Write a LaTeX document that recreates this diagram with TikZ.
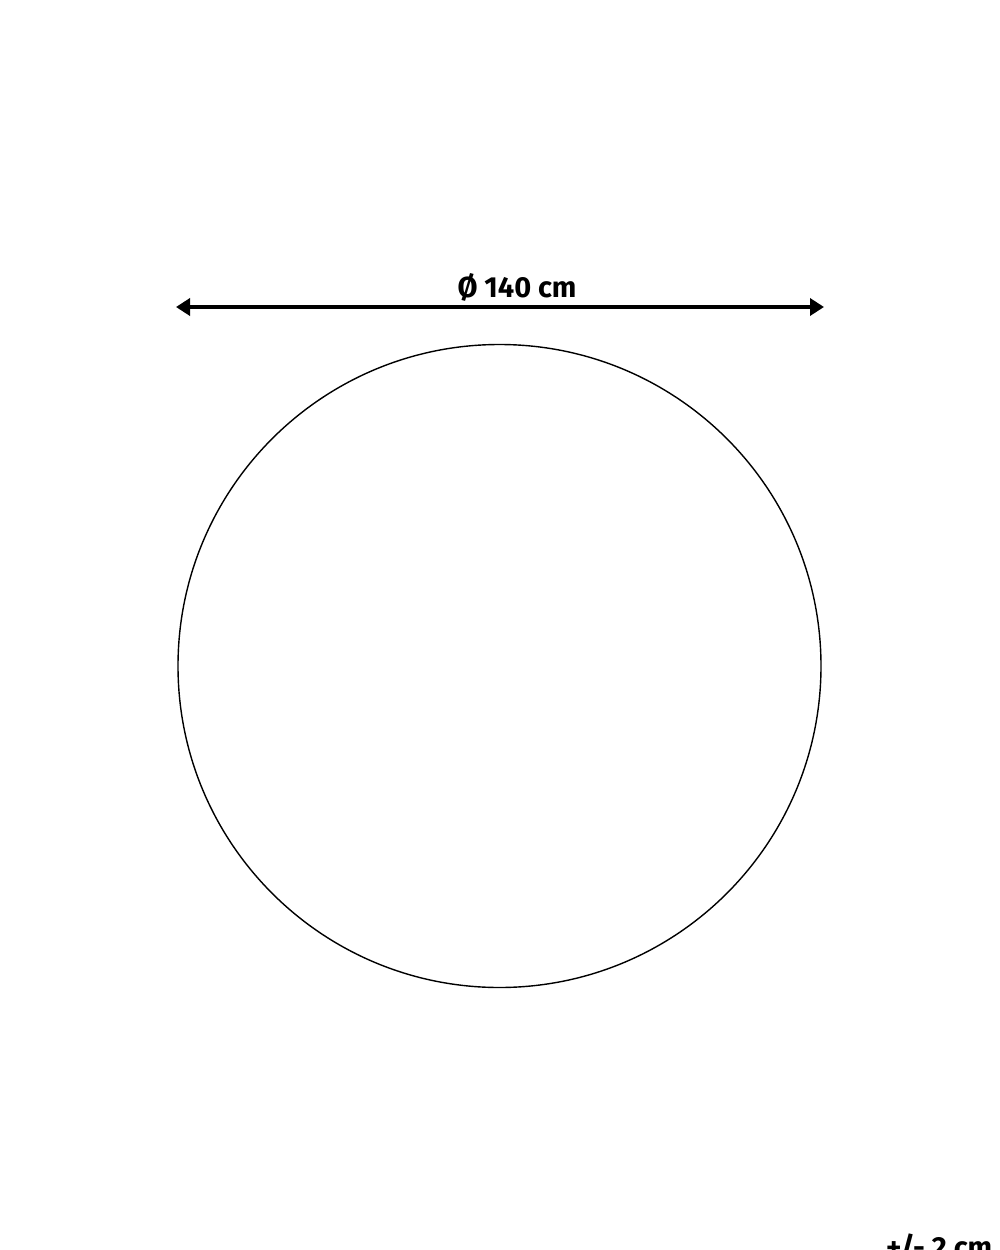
\documentclass[tikz,border=0pt]{standalone}
\usepackage{fontspec}
\setmainfont{Fira Sans}
\usetikzlibrary{arrows.meta}
\tikzset{
  dimline/.style={line width=4pt, {Triangle[length=14pt,width=17pt]}-{Triangle[length=14pt,width=17pt]}},
  rug/.style={line width=1.4pt, draw=black},
  lbl/.style={font=\bfseries\fontsize{29}{30}\selectfont, inner sep=0pt, text=black}
}
\begin{document}
\begin{tikzpicture}[x=1pt,y=-1pt]
  \useasboundingbox (0,0) rectangle (1000,1250);
  \coordinate (L) at (176,307);
  \coordinate (R) at (824,307);
  \draw[dimline] (L) -- (R);
  \node[lbl, anchor=base] (dia) at (517,297) {Ø 140 cm};
  \draw[rug] (499.5,666) circle [radius=321.5];
  \node[lbl, anchor=base west] (tol) at (886,1257) {+/- 2 cm};
\end{tikzpicture}
\end{document}
